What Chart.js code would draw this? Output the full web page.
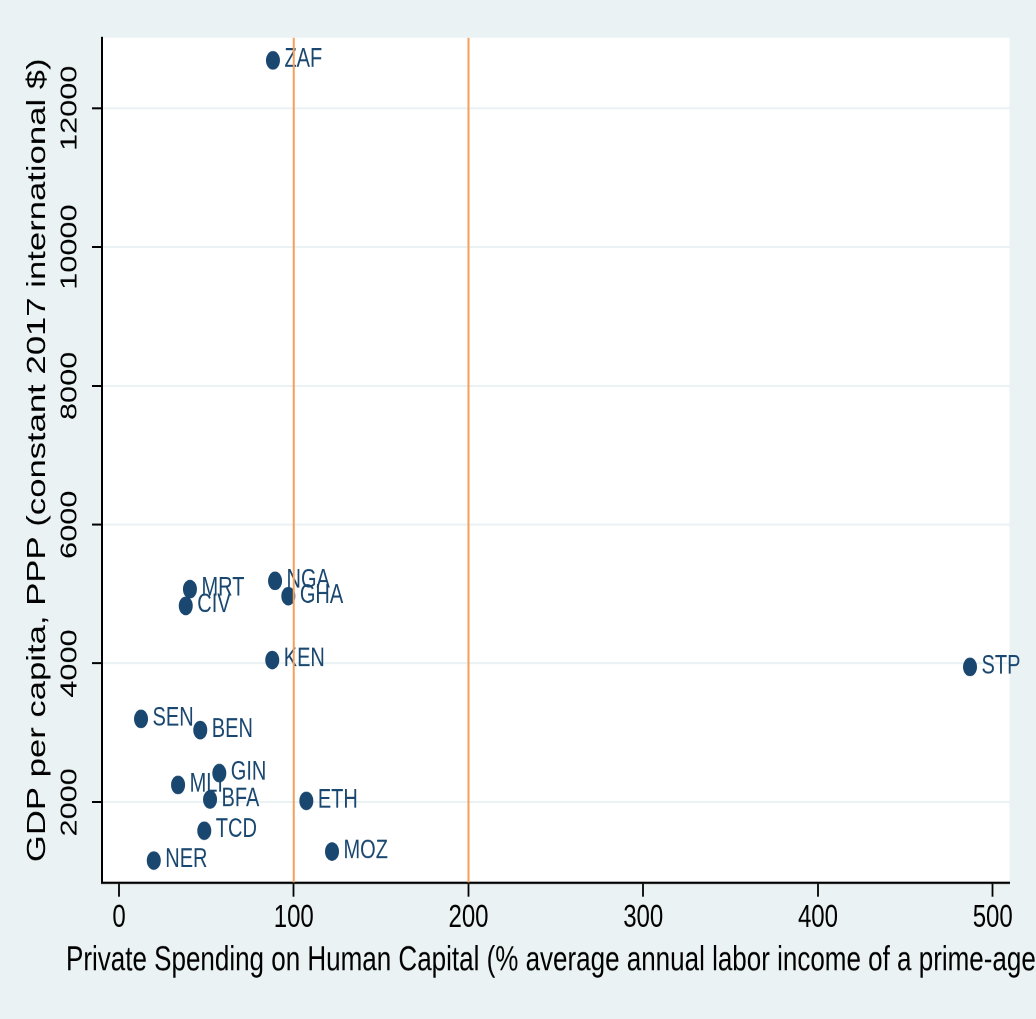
<!DOCTYPE html>
<html>
<head>
<meta charset="utf-8">
<script src="https://cdn.jsdelivr.net/npm/chart.js@4/dist/chart.umd.min.js"></script>
<style>
  html, body { margin: 0; padding: 0; background: #EAF2F3; overflow: hidden; }
  #frame {
    position: absolute; left: 0; top: 0;
    width: 1036px; height: 764px;
    transform-origin: 0 0;
    transform: scaleY(1.33377);
  }
</style>
</head>
<body>
<div id="frame"><canvas id="c" width="1036" height="764"></canvas></div>
<script>
// Country codes, in drawing order (later entries are painted over earlier ones)
const countries = ['ZAF', 'NGA', 'GHA', 'MRT', 'CIV', 'KEN', 'STP', 'SEN', 'BEN', 'MLI', 'GIN', 'BFA', 'ETH', 'TCD', 'MOZ', 'NER'];
// Private spending on human capital (% of average annual labor income of a prime-age adult)
const privateSpending = [88.1, 89.3, 96.9, 40.6, 38.2, 87.7, 487.0, 12.6, 46.5, 33.8, 57.4, 52.1, 107.2, 48.8, 121.9, 19.9];
// GDP per capita, PPP (constant 2017 international $)
const gdpPerCapita = [12690, 5190, 4970, 5070, 4830, 4050, 3950, 3200, 3040, 2250, 2420, 2040, 2020, 1590, 1290, 1160];
// Axis ticks and vertical reference lines
const xTicks = [0, 100, 200, 300, 400, 500];
const yTicks = [2000, 4000, 6000, 8000, 10000, 12000];
const refLines = [100, 200];

const xTitleText = 'Private Spending on Human Capital (% average annual labor income of a prime-age';
const yTitleText = 'GDP per capita, PPP (constant 2017 international $)';

const FONT = '"Liberation Sans", Arial, Helvetica, sans-serif';
const NAVY = '#1A476F';
const X_MIN = -9.73, X_MAX = 509.6, Y_MIN = 841, Y_MAX = 13017;

Chart.defaults.font.family = FONT;
Chart.defaults.color = '#000';

const datasets = [];
refLines.forEach(v => {
  datasets.push({
    type: 'line',
    data: [{ x: v, y: Y_MIN }, { x: v, y: Y_MAX }],
    borderColor: '#F5A05A',
    borderWidth: 2,
    pointRadius: 0,
    showLine: true,
    fill: false,
    order: 0
  });
});
countries.forEach((code, i) => {
  datasets.push({
    code: code,
    data: [{ x: privateSpending[i], y: gdpPerCapita[i] }],
    backgroundColor: NAVY,
    borderColor: NAVY,
    borderWidth: 0,
    pointRadius: 7,
    pointHoverRadius: 7,
    order: 100 - i
  });
});

// White plot region
const plotBackground = {
  id: 'plotBackground',
  beforeDraw(chart) {
    const { ctx, chartArea: a } = chart;
    ctx.save();
    ctx.fillStyle = '#ffffff';
    ctx.fillRect(a.left, a.top, a.right - a.left, a.bottom - a.top);
    ctx.restore();
  }
};

// Country code to the right of each marker
const pointLabels = {
  id: 'pointLabels',
  afterDatasetDraw(chart, args) {
    const ds = chart.data.datasets[args.index];
    if (!ds.code) return;
    const el = args.meta.data[0];
    const ctx = chart.ctx;
    ctx.save();
    ctx.font = '20px ' + FONT;
    ctx.fillStyle = NAVY;
    ctx.textAlign = 'left';
    ctx.textBaseline = 'alphabetic';
    ctx.fillText(ds.code, el.x + 11.5, el.y + 4.9);
    ctx.restore();
  }
};

// Horizontal axis title, left-aligned under the plot
const xAxisTitle = {
  id: 'xAxisTitle',
  afterDraw(chart) {
    const ctx = chart.ctx;
    ctx.save();
    ctx.font = '26px ' + FONT;
    ctx.fillStyle = '#000';
    ctx.textAlign = 'left';
    ctx.textBaseline = 'alphabetic';
    ctx.fillText(xTitleText, 66, 727.3);
    ctx.restore();
  }
};

new Chart(document.getElementById('c'), {
  type: 'scatter',
  data: { datasets },
  plugins: [plotBackground, pointLabels, xAxisTitle],
  options: {
    responsive: false,
    devicePixelRatio: 2,
    animation: false,
    events: [],
    layout: { padding: { top: 28.27, right: 26.5, left: 0, bottom: 0 } },
    plugins: { legend: { display: false }, tooltip: { enabled: false }, title: { display: false } },
    scales: {
      x: {
        type: 'linear',
        position: 'bottom',
        min: X_MIN,
        max: X_MAX,
        afterBuildTicks: s => { s.ticks = xTicks.map(v => ({ value: v })); },
        afterFit: s => { s.height = 102.2; },
        ticks: {
          callback: v => String(v),
          font: { size: 24 },
          color: '#000',
          padding: 1.6,
          maxRotation: 0,
          autoSkip: false
        },
        grid: {
          drawOnChartArea: false,
          drawTicks: true,
          tickLength: 10.5,
          tickColor: '#000',
          tickWidth: 1.8
        },
        border: { display: true, color: '#000', width: 1.7 }
      },
      y: {
        type: 'linear',
        position: 'left',
        min: Y_MIN,
        max: Y_MAX,
        afterBuildTicks: s => { s.ticks = yTicks.map(v => ({ value: v })); },
        afterFit: s => { s.width = 102; },
        ticks: {
          callback: v => String(v),
          font: { size: 23 },
          color: '#000',
          minRotation: 90,
          maxRotation: 90,
          crossAlign: 'center',
          padding: -10,
          autoSkip: false
        },
        grid: {
          drawOnChartArea: true,
          color: '#EAF2F3',
          lineWidth: 1.5,
          drawTicks: true,
          tickLength: 10,
          tickColor: '#000',
          tickWidth: 1.5
        },
        border: { display: true, color: '#000', width: 2 },
        title: {
          display: true,
          text: yTitleText,
          font: { size: 26 },
          color: '#000',
          padding: { top: 22.4, bottom: 0 }
        }
      }
    }
  }
});
</script>
</body>
</html>
